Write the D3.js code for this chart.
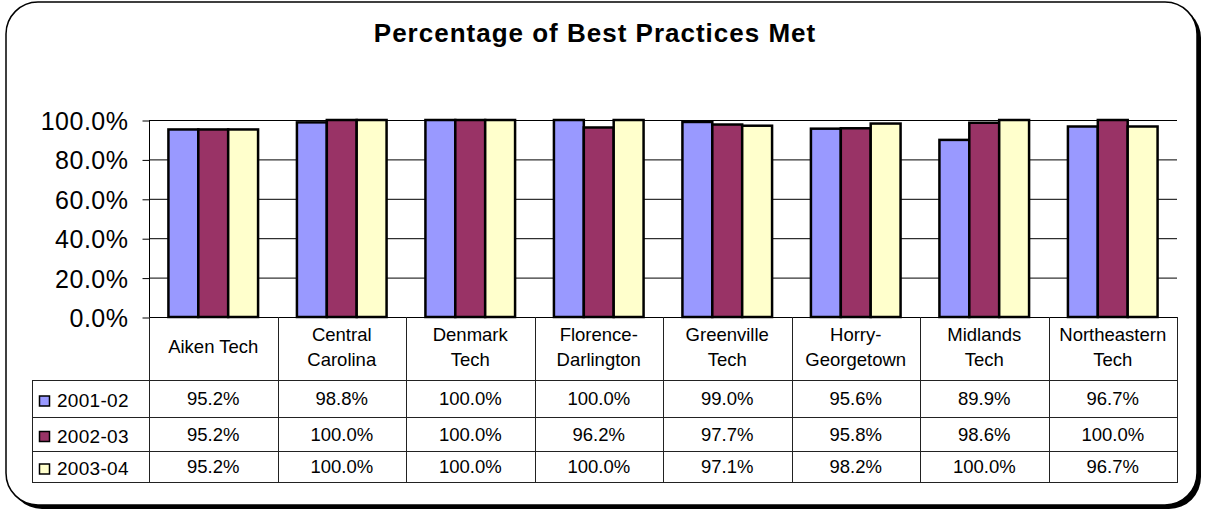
<html>
<head>
    <script src="https://d3js.org/d3.v7.min.js"></script>
    <style>
        body { margin: 0; background: #fff; }
        text { font-family: "Liberation Sans", Arial, sans-serif; fill: #000; }
    </style>
</head>
<body>
    <div id="vis"></div>
</body>

<script>

    // data
    var categories = ["Aiken Tech", "Central Carolina", "Denmark Tech", "Florence-Darlington",
        "Greenville Tech", "Horry-Georgetown", "Midlands Tech", "Northeastern Tech"];
    // how each category label wraps in the table header
    var categoryLines = [["Aiken Tech"], ["Central", "Carolina"], ["Denmark", "Tech"], ["Florence-", "Darlington"],
        ["Greenville", "Tech"], ["Horry-", "Georgetown"], ["Midlands", "Tech"], ["Northeastern", "Tech"]];
    var seriesNames = ["2001-02", "2002-03", "2003-04"];
    var values2001 = [95.2, 98.8, 100.0, 100.0, 99.0, 95.6, 89.9, 96.7];
    var values2002 = [95.2, 100.0, 100.0, 96.2, 97.7, 95.8, 98.6, 100.0];
    var values2003 = [95.2, 100.0, 100.0, 100.0, 97.1, 98.2, 100.0, 96.7];
    var yTicks = [0, 20, 40, 60, 80, 100];
    var seriesColors = ["#9999FF", "#993366", "#FFFFCC"];

    var seriesValues = [values2001, values2002, values2003];

    var W = 1205, H = 512;
    var plot = { left: 149, right: 1177, top: 120, bottom: 317 };
    // data table rows (header row, then one per series)
    var rowEdges = [317, 380, 417, 451, 482];
    var tableLeft = 32;

    var svg = d3.select("#vis")
        .append("svg")
        .attr("width", W)
        .attr("height", H);

    // outer rounded frame with drop shadow
    svg.append("rect")
        .attr("x", 10).attr("y", 6)
        .attr("width", 1191).attr("height", 503)
        .attr("rx", 32).attr("ry", 32)
        .style("fill", "#000");
    svg.append("rect")
        .attr("x", 6).attr("y", 2)
        .attr("width", 1191).attr("height", 503)
        .attr("rx", 32).attr("ry", 32)
        .style("fill", "#fff")
        .style("stroke", "#000")
        .style("stroke-width", 1.5);

    // title
    svg.append("text")
        .attr("x", 595)
        .attr("y", 42)
        .attr("text-anchor", "middle")
        .style("font-size", "26px")
        .style("font-weight", "bold")
        .style("letter-spacing", "1px")
        .text("Percentage of Best Practices Met");

    // scales
    var x0 = d3.scaleBand()
        .domain(categories)
        .range([plot.left, plot.right])
        .padding(0);

    var x1 = d3.scaleBand()
        .domain(seriesNames)
        .range([0, x0.bandwidth()])
        .paddingInner(0)
        .paddingOuter(0.65);

    var y = d3.scaleLinear()
        .domain([0, 100])
        .range([plot.bottom, plot.top]);

    // gridlines
    svg.append("g")
        .selectAll("line")
        .data(yTicks.filter(function (d) { return d > 0; }))
        .enter()
        .append("line")
        .attr("x1", plot.left).attr("x2", plot.right)
        .attr("y1", function (d) { return y(d) + 0.5; })
        .attr("y2", function (d) { return y(d) + 0.5; })
        .style("stroke", "#000")
        .style("stroke-width", 1);

    // y axis
    var yAxis = svg.append("g")
        .attr("transform", "translate(" + (plot.left + 0.5) + ",0.5)")
        .call(d3.axisLeft(y)
            .tickValues(yTicks)
            .tickSize(7)
            .tickPadding(14)
            .tickFormat(function (d) { return d.toFixed(1) + "%"; }));
    yAxis.select(".domain").attr("d", "M0," + y(100) + "V" + y(0)).style("stroke", "#000");
    yAxis.selectAll(".tick line").style("stroke", "#000");
    yAxis.selectAll(".tick text")
        .style("font-family", "'Liberation Sans', Arial, sans-serif")
        .style("font-size", "25px")
        .style("letter-spacing", "0.5px")
        .attr("dy", "0.36em");

    // bars
    var groups = svg.append("g")
        .selectAll("g")
        .data(categories)
        .enter()
        .append("g")
        .attr("transform", function (d) { return "translate(" + x0(d) + ",0)"; });

    groups.selectAll("rect")
        .data(function (d, i) {
            return seriesNames.map(function (s, j) {
                return { series: s, value: seriesValues[j][i], color: seriesColors[j] };
            });
        })
        .enter()
        .append("rect")
        .attr("x", function (d) { return x1(d.series); })
        .attr("y", function (d) { return y(d.value); })
        .attr("width", x1.bandwidth())
        .attr("height", function (d) { return y(0) - y(d.value); })
        .style("fill", function (d) { return d.color; })
        .style("stroke", "#000")
        .style("stroke-width", 2.5);

    // data table
    var table = svg.append("g");

    // horizontal lines
    table.append("line")
        .attr("x1", plot.left).attr("x2", plot.right)
        .attr("y1", rowEdges[0] + 0.5).attr("y2", rowEdges[0] + 0.5)
        .style("stroke", "#000");
    rowEdges.slice(1).forEach(function (ry) {
        table.append("line")
            .attr("x1", tableLeft).attr("x2", plot.right)
            .attr("y1", ry + 0.5).attr("y2", ry + 0.5)
            .style("stroke", "#222");
    });

    // vertical lines
    var edges = categories.map(function (c) { return x0(c); }).concat([plot.right]);
    edges.forEach(function (ex) {
        table.append("line")
            .attr("x1", Math.round(ex) + 0.5).attr("x2", Math.round(ex) + 0.5)
            .attr("y1", rowEdges[0]).attr("y2", rowEdges[rowEdges.length - 1] + 1)
            .style("stroke", "#222");
    });
    table.append("line")
        .attr("x1", tableLeft + 0.5).attr("x2", tableLeft + 0.5)
        .attr("y1", rowEdges[1]).attr("y2", rowEdges[rowEdges.length - 1] + 1)
        .style("stroke", "#222");

    // category header labels
    categories.forEach(function (c, i) {
        var lines = categoryLines[i];
        var cx = x0(c) + x0.bandwidth() / 2;
        var mid = (rowEdges[0] + rowEdges[1]) / 2;
        var t = table.append("text")
            .attr("text-anchor", "middle")
            .style("font-size", "18.5px");
        lines.forEach(function (ln, k) {
            t.append("tspan")
                .attr("x", cx)
                .attr("y", mid + (k - (lines.length - 1) / 2) * 25 + 4.5)
                .text(ln);
        });
    });

    // series rows: legend key + values
    seriesNames.forEach(function (s, j) {
        var mid = (rowEdges[j + 1] + rowEdges[j + 2]) / 2;
        table.append("rect")
            .attr("x", 39.5).attr("y", mid - 2.5)
            .attr("width", 10).attr("height", 10)
            .style("fill", seriesColors[j])
            .style("stroke", "#000")
            .style("stroke-width", 1.5);
        table.append("text")
            .attr("x", 57)
            .attr("y", mid + 8.5)
            .style("font-size", "19px")
            .style("letter-spacing", "0.3px")
            .text(s);
        categories.forEach(function (c, i) {
            table.append("text")
                .attr("x", x0(c) + x0.bandwidth() / 2)
                .attr("y", mid + 6.5)
                .attr("text-anchor", "middle")
                .style("font-size", "18.5px")
                .text(seriesValues[j][i].toFixed(1) + "%");
        });
    });

</script>

</html>
